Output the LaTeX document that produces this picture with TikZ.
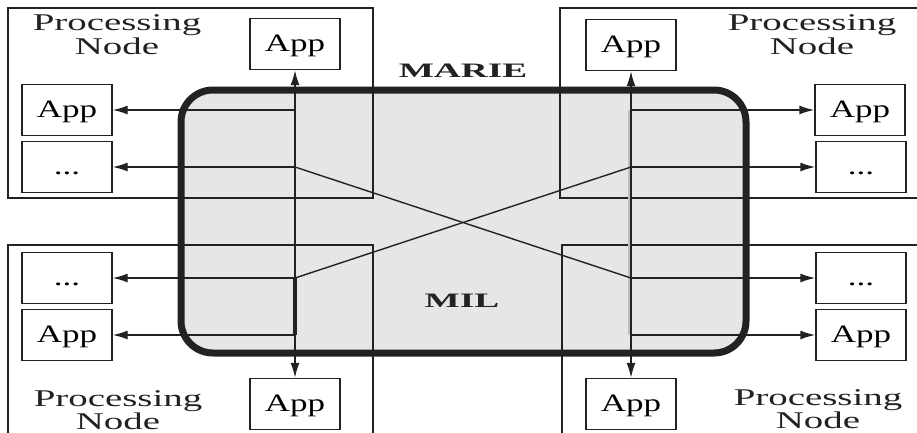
\documentclass[tikz,border=0pt]{standalone}
\usepackage{fontspec}
\setmainfont{Liberation Serif}
\usetikzlibrary{arrows.meta}
\definecolor{milgray}{HTML}{E6E6E8}
\definecolor{ink}{HTML}{222222}
\newcommand\hs[2]{\scalebox{#1}[1]{#2}}
\begin{document}
\begin{tikzpicture}[x=1pt,y=-1pt,
  appbox/.style={draw=ink, line width=1.4pt, fill=white, minimum width=90pt, minimum height=51pt,
    inner sep=0pt, font=\fontsize{25}{25}\selectfont, text height=18pt, text depth=3pt},
  lbl/.style={inner sep=0pt, anchor=base, font=\fontsize{24}{24}\selectfont, text=ink},
  big/.style={inner sep=0pt, anchor=base, font=\bfseries\fontsize{20.5}{20.5}\selectfont, text=ink},
  conn/.style={draw=ink, line width=1.4pt},
  tip/.tip={Latex[length=15pt,width=9pt]},
  arr/.style={conn, -tip},
  pn/.style={draw=ink, line width=1.4pt}]
\clip (0,0) rectangle (917,432);
\fill[white] (0,0) rectangle (917,432);
% MARIE / MIL area
\draw[line width=7pt, draw=ink, fill=milgray, rounded corners=32pt] (181,90) rectangle (746,353);
% processing node outlines
\draw[pn] (8,8) rectangle (373,198);
\draw[pn] (925,8) -- (560,8) -- (560,198) -- (925,198);
\draw[pn] (8,440) -- (8,245) -- (373,245) -- (373,440);
\draw[pn] (925,245) -- (562,245) -- (562,440);
% labels
\node[lbl] (tlp) at (117,30) {\hs{1.62}{Processing}};
\node[lbl] (tln) at (117,54) {\hs{1.62}{Node}};
\node[lbl] (trp) at (812,30) {\hs{1.62}{Processing}};
\node[lbl] (trn) at (812,54) {\hs{1.62}{Node}};
\node[lbl] (blp) at (118,406) {\hs{1.62}{Processing}};
\node[lbl] (bln) at (118,429) {\hs{1.62}{Node}};
\node[lbl] (brp) at (818,405) {\hs{1.62}{Processing}};
\node[lbl] (brn) at (818,428) {\hs{1.62}{Node}};
\node[big] (marie) at (463,77) {\hs{1.82}{MARIE}};
\node[big] (mil) at (462,307) {\hs{1.82}{MIL}};
% App boxes
\node[appbox] (tlapp) at (295,44) {\hs{1.4}{App}};
\node[appbox] (trapp) at (631,45) {\hs{1.4}{App}};
\node[appbox] (blapp) at (295,404) {\hs{1.4}{App}};
\node[appbox] (brapp) at (631,404) {\hs{1.4}{App}};
\node[appbox] (la1) at (67,110) {\hs{1.4}{App}};
\node[appbox] (la2) at (67,167) {\hs{1.4}{...}};
\node[appbox] (la3) at (67,278) {\hs{1.4}{...}};
\node[appbox] (la4) at (67,335) {\hs{1.4}{App}};
\node[appbox] (ra1) at (860,110) {\hs{1.4}{App}};
\node[appbox] (ra2) at (861,167) {\hs{1.4}{...}};
\node[appbox] (ra3) at (861,278) {\hs{1.4}{...}};
\node[appbox] (ra4) at (861,335) {\hs{1.4}{App}};
% junctions
\coordinate (L1) at (295,110);
\coordinate (L2) at (295,167);
\coordinate (L3) at (295,278);
\coordinate (L4) at (295,335);
\coordinate (R1) at (631,110);
\coordinate (R2) at (631,167);
\coordinate (R3) at (631,278);
\coordinate (R4) at (631,335);
% shadow of right vertical
\draw[gray!50, line width=2.5pt] ([xshift=-2.2pt]R1) -- ([xshift=-2.2pt]R4);
% verticals
\draw[conn, tip-tip] (tlapp) -- (blapp);
\draw[conn, tip-tip] (trapp) -- (brapp);
\draw[draw=ink, line width=3.2pt] (L3) -- (L4);
% horizontals
\draw[arr] (L1) -- (la1);
\draw[arr] (L2) -- (la2);
\draw[arr] (L3) -- (la3);
\draw[arr] (L4) -- (la4);
\draw[arr] (R1) -- (ra1);
\draw[arr] (R2) -- (ra2);
\draw[arr] (R3) -- (ra3);
\draw[arr] (R4) -- (ra4);
% crossing
\draw[conn] (L2) -- (R3);
\draw[conn] (L3) -- (R2);
\end{tikzpicture}
\end{document}
